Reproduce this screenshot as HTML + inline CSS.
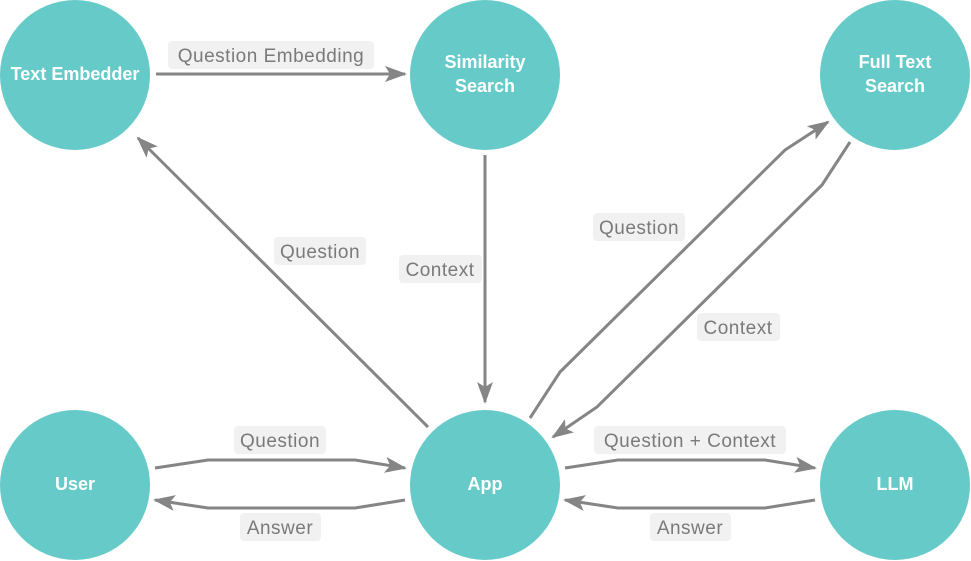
<!DOCTYPE html>
<html><head><style>body{margin:0;background:#fff}svg{display:block}</style></head><body>
<svg width="971" height="561" viewBox="0 0 971 561" xmlns="http://www.w3.org/2000/svg" font-family="Liberation Sans, sans-serif">
<defs>
<marker id="b" markerWidth="22" markerHeight="16" refX="20" refY="8" orient="auto" markerUnits="userSpaceOnUse"><path d="M0,0 L22,8 L0,16 L5,8 z" fill="#858585"/></marker></defs>
<g fill="#66cbc8">
<circle cx="75" cy="75" r="75"/><circle cx="485" cy="75" r="75"/><circle cx="895" cy="75" r="75"/>
<circle cx="75" cy="485" r="75"/><circle cx="485" cy="485" r="75"/><circle cx="895" cy="485" r="75"/>
</g>
<g fill="none" stroke="#858585" stroke-width="3" marker-end="url(#b)">
<path d="M156,74 L405,74"/>
<path d="M428,427 L138,138"/>
<path d="M485,155 L485,402"/>
<path d="M530,418 L560,372 L785,150 L828,122"/>
<path d="M850,142 L822,185 L597,407 L553,437"/>
<path d="M155,468 L208,460 L355,460 L405,468"/>
<path d="M405,500 L355,508 L208,508 L155,500"/>
<path d="M565,468 L618,460 L765,460 L815,468"/>
<path d="M815,500 L765,508 L618,508 L565,500"/>
</g>
<g fill="#f1f1f1">
<rect x="168" y="41" width="206" height="28" rx="4"/>
<rect x="274" y="237" width="92" height="28" rx="4"/>
<rect x="399" y="255" width="83" height="28" rx="4"/>
<rect x="593" y="213" width="92" height="28" rx="4"/>
<rect x="697" y="313" width="83" height="28" rx="4"/>
<rect x="234" y="426" width="92" height="28" rx="4"/>
<rect x="240" y="513" width="81" height="28" rx="4"/>
<rect x="594" y="426" width="192" height="28" rx="4"/>
<rect x="650" y="513" width="81" height="28" rx="4"/>
</g>
<g fill="#7a7a7a" font-size="19" text-anchor="middle" letter-spacing="0.5">
<text x="271" y="62">Question Embedding</text>
<text x="320" y="258">Question</text>
<text x="440" y="276">Context</text>
<text x="639" y="234">Question</text>
<text x="738" y="334">Context</text>
<text x="280" y="447">Question</text>
<text x="280" y="534">Answer</text>
<text x="690" y="447">Question + Context</text>
<text x="690" y="534">Answer</text>
</g>
<g fill="#fff" font-size="18" font-weight="bold" text-anchor="middle">
<text x="75" y="80">Text Embedder</text>
<text x="485" y="68">Similarity</text><text x="485" y="92">Search</text>
<text x="895" y="68">Full Text</text><text x="895" y="92">Search</text>
<text x="75" y="490">User</text>
<text x="485" y="490">App</text>
<text x="895" y="490">LLM</text>
</g>
</svg>
</body></html>
